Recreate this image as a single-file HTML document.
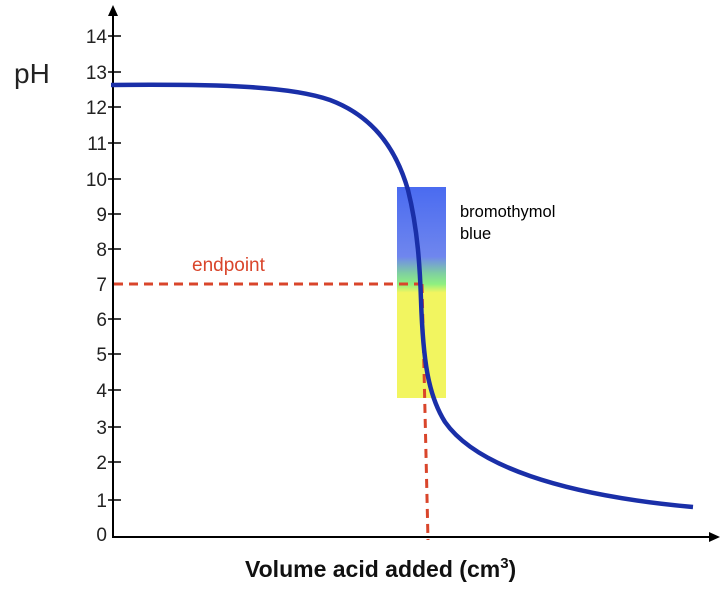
<!DOCTYPE html>
<html><head><style>body{margin:0;background:#fff}</style></head><body>
<svg width="726" height="588" viewBox="0 0 726 588" xmlns="http://www.w3.org/2000/svg" font-family="Liberation Sans, sans-serif">
<defs>
<linearGradient id="g" x1="0" y1="0" x2="0" y2="1">
<stop offset="0" stop-color="#4a6bf0"/>
<stop offset="0.33" stop-color="#6f86ee"/>
<stop offset="0.41" stop-color="#7fd0a0"/>
<stop offset="0.46" stop-color="#8ef080"/>
<stop offset="0.5" stop-color="#f2f560"/>
<stop offset="1" stop-color="#f2f560"/>
</linearGradient>
</defs>
<rect x="397" y="187" width="49" height="211" fill="url(#g)"/>
<g stroke="#000" stroke-width="2">
<line x1="113" y1="10" x2="113" y2="538"/>
<line x1="112" y1="537" x2="715" y2="537"/>
</g>
<polygon points="113,5 108,16 118,16" fill="#000"/>
<polygon points="720,537 709,532 709,542" fill="#000"/>
<g stroke="#000" stroke-width="1.5">
<line x1="108" y1="36" x2="121" y2="36"/><line x1="108" y1="72" x2="121" y2="72"/>
<line x1="108" y1="107" x2="121" y2="107"/><line x1="108" y1="143" x2="121" y2="143"/>
<line x1="108" y1="179" x2="121" y2="179"/><line x1="108" y1="214" x2="121" y2="214"/>
<line x1="108" y1="249" x2="121" y2="249"/><line x1="108" y1="319" x2="121" y2="319"/>
<line x1="108" y1="354" x2="121" y2="354"/><line x1="108" y1="390" x2="121" y2="390"/>
<line x1="108" y1="427" x2="121" y2="427"/><line x1="108" y1="462" x2="121" y2="462"/>
<line x1="108" y1="500" x2="121" y2="500"/>
</g>
<g font-size="19" text-anchor="end" fill="#222">
<text x="107" y="43">14</text><text x="107" y="79">13</text><text x="107" y="114">12</text>
<text x="107" y="150">11</text><text x="107" y="186">10</text><text x="107" y="221">9</text>
<text x="107" y="256">8</text><text x="107" y="291">7</text><text x="107" y="326">6</text>
<text x="107" y="361">5</text><text x="107" y="397">4</text><text x="107" y="434">3</text>
<text x="107" y="469">2</text><text x="107" y="507">1</text><text x="107" y="541">0</text>
</g>
<text x="14" y="83" font-size="28" fill="#222">pH</text>
<g stroke="#d9452b" stroke-width="3" stroke-dasharray="9,6" fill="none">
<line x1="114" y1="284" x2="422" y2="284"/>
<polyline points="422,284 428,540"/>
</g>
<text x="192" y="271" font-size="19" fill="#d9452b">endpoint</text>
<path d="M111,85 C220,84 290,86 330,100 C370,115 395,145 408,190 C418,230 420,270 421,300 C423,360 428,395 445,422 C475,465 560,495 693,507" stroke="#1a2fa8" stroke-width="4.5" fill="none"/>
<text x="460" y="217" font-size="16.5" fill="#000">bromothymol</text>
<text x="460" y="239" font-size="16.5" fill="#000">blue</text>
<text x="245" y="577" font-size="23" font-weight="bold" fill="#111">Volume acid added (cm<tspan font-size="15" dy="-9">3</tspan><tspan dy="9">)</tspan></text>
</svg>
</body></html>
